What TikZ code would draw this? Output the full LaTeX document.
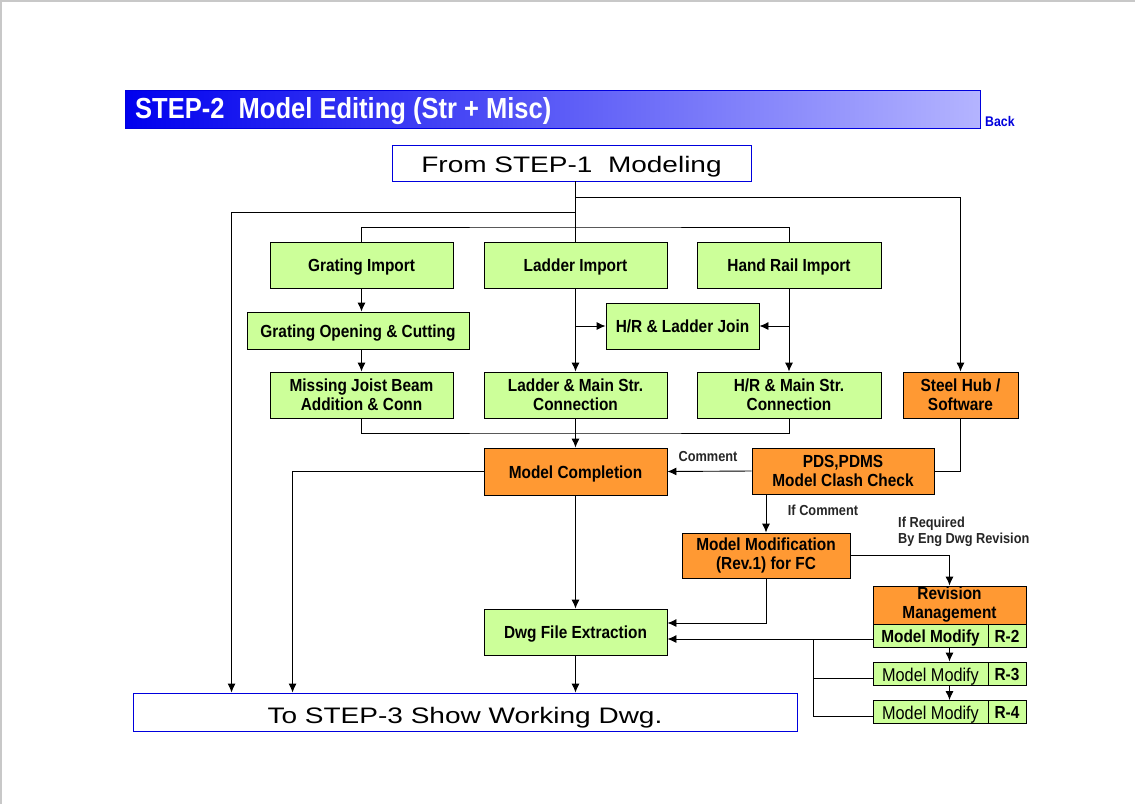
\documentclass[tikz,border=0pt]{standalone}
\usepackage{fontspec}
\setmainfont{Liberation Sans}
\newfontfamily\bxfont{Liberation Sans}[FakeStretch=0.88]
\newfontfamily\widefont{Liberation Sans}[FakeStretch=1.25]
\usetikzlibrary{arrows.meta,calc}
\definecolor{boxgreen}{HTML}{CCFF99}
\definecolor{boxorange}{HTML}{FF9933}
\definecolor{titleblue}{HTML}{0000EE}
\definecolor{titlelight}{HTML}{B4B4FF}
\definecolor{frameblue}{HTML}{0000DD}
\definecolor{framegrey}{HTML}{C8C8C8}
\tikzset{
  bx/.style={draw=black, line width=0.9pt, inner sep=0pt, align=center,
    font=\bxfont\fontsize{17.5}{19}\selectfont\bfseries},
  gbx/.style={bx, fill=boxgreen},
  obx/.style={bx, fill=boxorange},
  oneline/.style={text height=13pt, text depth=0pt},
  wbx/.style={draw=frameblue, line width=0.9pt, fill=white, inner sep=0pt,
    font=\widefont\fontsize{22.4}{26}\selectfont},
  lbl/.style={inner sep=0pt, font=\bxfont\fontsize{14.5}{16}\selectfont\bfseries, text=black!85},
  ln/.style={line width=0.9pt, draw=black},
  arr/.style={ln, -{Latex[length=9pt,width=8pt]}},
}
\begin{document}
\begin{tikzpicture}[x=1pt,y=-1pt]
\useasboundingbox (0,0) rectangle (1135,804);
\fill[white] (0,0) rectangle (1135,804);
\draw[framegrey, line width=2pt] (0,1) -- (1135,1);
\draw[framegrey, line width=2pt] (1,0) -- (1,804);

% title bar
\shade[left color=titleblue, right color=titlelight] (125,90) rectangle (980,128);
\draw[frameblue, line width=0.9pt] (125,90) rectangle (980,128);
\node[anchor=west, inner sep=0pt, text=white, font=\bxfont\fontsize{29}{30}\selectfont\bfseries] (title) at (135,111) {STEP-2\ \ Model Editing (Str + Misc)};
\node[anchor=west, inner sep=0pt, text=frameblue, font=\bxfont\fontsize{14}{15}\selectfont\bfseries] (back) at (985,121) {Back};

% start / end boxes
\node[wbx, minimum width=359pt, minimum height=36pt, text height=19.6pt, text depth=0pt] (from) at (571.5,163) {From STEP-1\ \ Modeling};
\node[wbx, minimum width=664pt, minimum height=38pt, text height=22pt, text depth=0pt] (to) at (465,712) {To STEP-3 Show Working Dwg.};

% row 1
\node[gbx, oneline, minimum width=183pt, minimum height=46pt] (gi) at (361.5,265) {Grating Import};
\node[gbx, oneline, minimum width=183pt, minimum height=46pt] (li) at (575.5,265) {Ladder Import};
\node[gbx, oneline, minimum width=184pt, minimum height=46pt] (hi) at (789,265) {Hand Rail Import};
% row 2
\node[gbx, oneline, minimum width=222pt, minimum height=37pt] (goc) at (358,330.5) {Grating Opening \& Cutting};
\node[gbx, oneline, minimum width=153pt, minimum height=46pt] (hlj) at (682.5,326) {H/R \& Ladder Join};
% row 3
\node[gbx, minimum width=183pt, minimum height=46pt] (mj) at (361.5,395) {Missing Joist Beam\\Addition \& Conn};
\node[gbx, minimum width=183pt, minimum height=46pt] (lm) at (575.5,395) {Ladder \& Main Str.\\Connection};
\node[gbx, minimum width=184pt, minimum height=46pt] (hm) at (789,395) {H/R \& Main Str.\\Connection};
\node[obx, minimum width=115pt, minimum height=46pt] (sh) at (960.5,395) {Steel Hub /\\Software};
% row 4
\node[obx, oneline, minimum width=183pt, minimum height=47pt] (mc) at (575.5,471.5) {Model Completion};
\node[obx, minimum width=182pt, minimum height=46pt] (pds) at (843,471) {PDS,PDMS\\Model Clash Check};
\node[obx, minimum width=168pt, minimum height=45pt] (mm) at (766,555.5) {Model Modification\\(Rev.1) for FC};
\node[gbx, oneline, minimum width=183pt, minimum height=46pt] (dwg) at (575.5,632) {Dwg File Extraction};
% revision management
\node[obx, minimum width=153pt, minimum height=38pt] (rev) at (949.5,605) {Revision\\Management};
\node[gbx, oneline, minimum width=115pt, minimum height=23pt] (r2a) at (930.5,635.5) {Model Modify};
\node[gbx, oneline, minimum width=38pt, minimum height=23pt] (r2b) at (1007,635.5) {R-2};
\node[gbx, minimum width=115pt, minimum height=23pt, text height=15.4pt, text depth=0pt, font=\bxfont\fontsize{18.5}{19}\selectfont] (r3a) at (930.5,673.5) {Model Modify};
\node[gbx, oneline, minimum width=38pt, minimum height=23pt] (r3b) at (1007,673.5) {R-3};
\node[gbx, minimum width=115pt, minimum height=23pt, text height=15.4pt, text depth=0pt, font=\bxfont\fontsize{18.5}{19}\selectfont] (r4a) at (930.5,712) {Model Modify};
\node[gbx, oneline, minimum width=38pt, minimum height=23pt] (r4b) at (1007,712) {R-4};

% labels
\node[lbl] (lcom) at (708,456) {Comment};
\node[lbl] (lifc) at (823,510) {If Comment};
\node[lbl, anchor=north west, align=left] (lreq) at (898,517) {If Required\\By Eng Dwg Revision};

% junction coordinates
\coordinate (j1) at (575.5,197);
\coordinate (j2) at (575.5,212);
\coordinate (j3) at (575.5,227);
\coordinate (j4) at (575.5,433);
\coordinate (b1) at (813,639);

% connectors from the top
\draw[ln] (li.north |- from.south) -- (li.north);
\draw[arr] (j1) -| (sh.north);
\draw[arr] (j2) -| ([xshift=99pt]to.north west);
\draw[ln] (gi.north) |- (j3) -| (hi.north);

% grating column
\draw[arr] (gi.south) -- (gi.south |- goc.north);
\draw[arr] (mj.north |- goc.south) -- (mj.north);
% ladder / hand rail columns
\draw[arr] (li.south) -- (lm.north);
\draw[arr] (hi.south) -- (hm.north);
\draw[arr] (li.south |- hlj.west) -- (hlj.west);
\draw[arr] (hi.south |- hlj.east) -- (hlj.east);
% merge to model completion
\draw[ln] (mj.south) |- (j4) -| (hm.south);
\draw[arr] (lm.south) -- (mc.north);

% clash check
\draw[ln] (sh.south) |- (pds.east);
\draw[arr] (pds.west) -- (mc.east);
\draw[arr] (mc.west) -| ([xshift=160pt]to.north west);
\draw[arr] (mc.south) -- (dwg.north);
\draw[arr] (mm.north |- pds.south) -- (mm.north);
\draw[arr] (mm.east) -| (rev.north);
\draw[arr] (mm.south) |- ([yshift=9pt]dwg.east);

% revisions
\draw[arr] ([yshift=-3.5pt]r2a.west) -- ([yshift=-7pt]dwg.east);
\draw[ln] ([yshift=-4.5pt]r3a.west) -| (b1);
\draw[ln] ([yshift=-4pt]r4a.west) -| (b1);
\draw[arr] (rev.south |- r2a.south) -- (rev.south |- r3a.north);
\draw[arr] (rev.south |- r3a.south) -- (rev.south |- r4a.north);

% to step 3
\draw[arr] (dwg.south) -- (dwg.south |- to.north);
\end{tikzpicture}
\end{document}
